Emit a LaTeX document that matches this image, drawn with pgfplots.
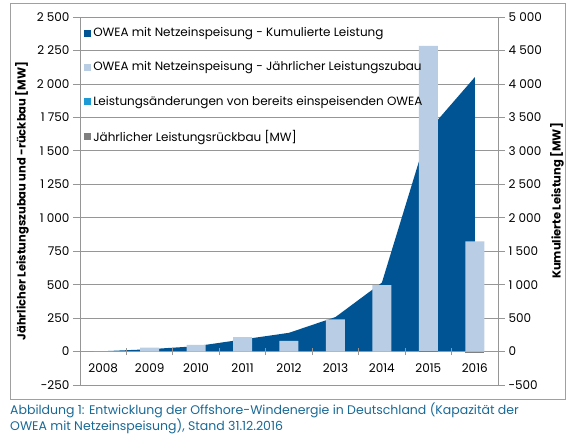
\documentclass[border=0pt]{standalone}
\usepackage{fontspec}
\setmainfont{Poppins}
\usepackage{pgfplots}
\pgfplotsset{compat=1.18}
\definecolor{dblue}{RGB}{0,84,147}
\definecolor{lblue}{RGB}{185,205,229}
\definecolor{cyanb}{RGB}{30,155,215}
\definecolor{greyb}{RGB}{128,128,128}
\definecolor{gridc}{RGB}{150,150,150}
\definecolor{framec}{RGB}{160,160,160}
\definecolor{capc}{RGB}{25,105,150}
\begin{document}
\begin{tikzpicture}[x=1pt,y=1pt]
\path[use as bounding box] (0,0) rectangle (570,439);
\draw[framec, line width=0.8pt] (10,40) rectangle (565,436);
% area axis (right scale)
\begin{axis}[
  at={(80pt,54pt)}, anchor=south west, scale only axis,
  width=418pt, height=368pt,
  xmin=-0.5, xmax=8.5, ymin=-500, ymax=5000,
  axis x line=none, axis y line*=right,
  axis line style={-, gridc, line width=0.8pt},
  ytick={-500,0,...,5000},
  yticklabels={-500,0,500,1 000,1 500,2 000,2 500,3 000,3 500,4 000,4 500,5 000},
  ymajorgrids, grid style={gridc, line width=0.8pt},
  tick align=outside, major tick length=7pt,
  every tick/.style={gridc, line width=0.8pt},
  tick label style={font=\fontsize{12}{14}\selectfont},
  ylabel={Kumulierte Leistung [MW]},
  ylabel style={font=\fontsize{11.5}{13}\selectfont\bfseries, at={(axis description cs:1.141,0.5)}, anchor=center},
]
\addplot[fill=dblue, draw=none] coordinates {
  (0,5) (1,35) (2,80) (3,180) (4,280) (5,515) (6,1030) (7,3300) (8,4100)
} \closedcycle;
\end{axis}
% bar axis (left scale)
\begin{axis}[
  at={(80pt,54pt)}, anchor=south west, scale only axis,
  width=418pt, height=368pt,
  xmin=-0.5, xmax=8.5, ymin=-250, ymax=2500,
  axis x line*=middle, axis y line*=left,
  axis line style={-, gridc, line width=0.8pt},
  xtick={0,...,8},
  xticklabels={2008,2009,2010,2011,2012,2013,2014,2015,2016},
  minor xtick={0.5,1.5,...,7.5},
  major x tick style={draw=none},
  minor x tick style={gridc, line width=0.8pt, yshift=-3.5pt},
  minor tick length=7pt,
  ytick={-250,0,...,2500},
  yticklabels={-250,0,250,500,750,1 000,1 250,1 500,1 750,2 000,2 250,2 500},
  ytick align=outside, major tick length=7pt,
  y tick style={gridc, line width=0.8pt},
  tick label style={font=\fontsize{12}{14}\selectfont},
  xticklabel style={yshift=-9pt},
  ylabel={Jährlicher Leistungszubau und -rückbau [MW]},
  ylabel style={font=\fontsize{11.5}{13}\selectfont\bfseries, at={(axis description cs:-0.139,0.5)}, anchor=center},
  legend cell align=left,
  legend style={draw=none, fill=none, at={(axis description cs:0.005,0.982)}, anchor=north west,
    font=\fontsize{12}{14}\selectfont, row sep=19.4pt, inner sep=2pt},
  legend image code/.code={\fill[#1] (0pt,-3.5pt) rectangle (7pt,3.5pt);},
]
\addlegendimage{fill=dblue, draw=none}
\addlegendentry{OWEA mit Netzeinspeisung - Kumulierte Leistung}
\addplot[ybar, bar width=19pt, bar shift=0pt, fill=lblue, draw=none] coordinates {
  (0,0) (1,30) (2,50) (3,108) (4,80) (5,240) (6,496) (7,2285) (8,823)
};
\addlegendentry{OWEA mit Netzeinspeisung - Jährlicher Leistungszubau}
\addplot[ybar, bar width=19pt, bar shift=0pt, fill=cyanb, draw=none] coordinates {
  (7,7)
};
\addlegendentry{Leistungsänderungen von bereits einspeisenden OWEA}
\addplot[ybar, bar width=19pt, bar shift=0pt, fill=greyb, draw=none] coordinates {
  (8,-6)
};
\addlegendentry{Jährlicher Leistungsrückbau [MW]}
\end{axis}
\node[anchor=base west, inner sep=0pt, text=capc, font=\fontsize{12.5}{15}\selectfont] at (10,25)
  {Abbildung 1: Entwicklung der Offshore-Windenergie in Deutschland (Kapazität der};
\node[anchor=base west, inner sep=0pt, text=capc, font=\fontsize{12.5}{15}\selectfont] at (10,9)
  {OWEA mit Netzeinspeisung), Stand 31.12.2016};
\end{tikzpicture}
\end{document}
